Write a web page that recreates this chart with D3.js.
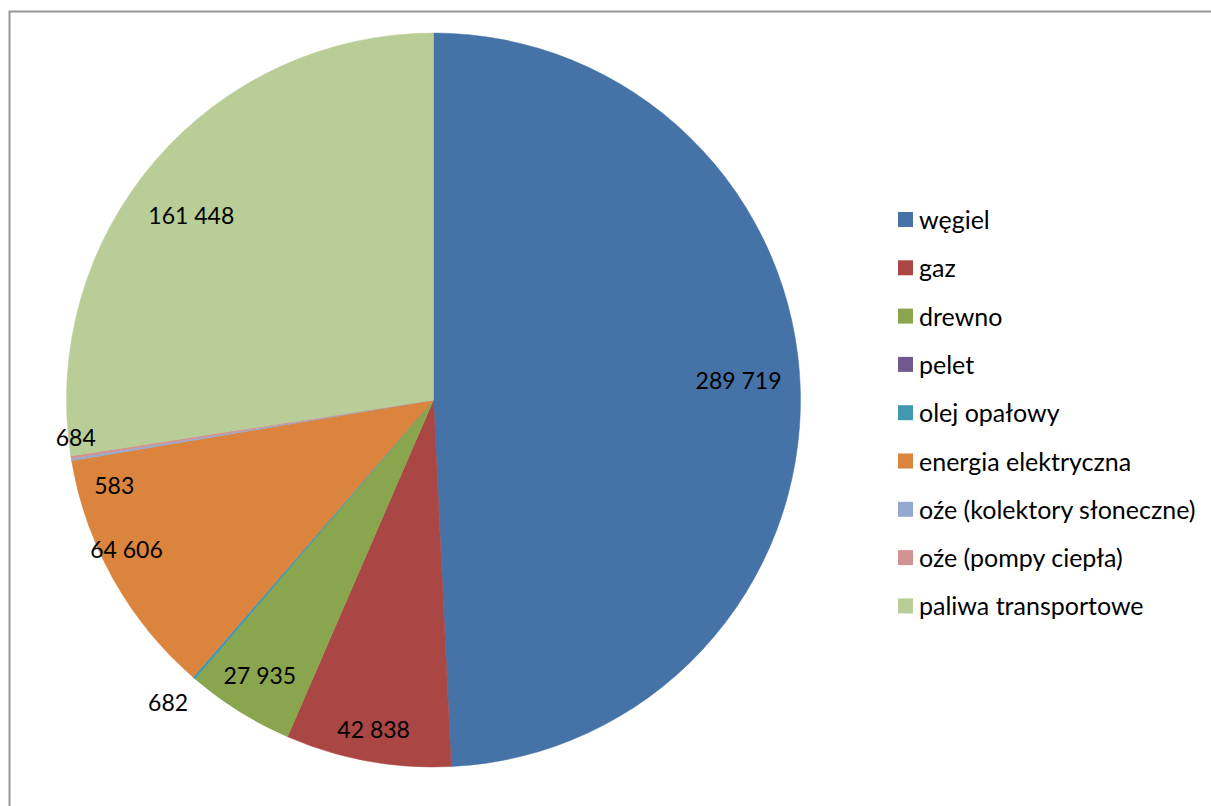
<!DOCTYPE html>
<html>
<head>
<meta charset="utf-8">
<script src="https://cdn.jsdelivr.net/npm/d3@7"></script>
<style>
  html, body { margin: 0; padding: 0; background: #fff; }
  svg { display: block; font-family: Lato, "Open Sans", sans-serif; }
</style>
</head>
<body>
<svg id="chart" width="1211" height="806"></svg>
<script>
// Heating / energy sources (values per category)
const categories = [
  "węgiel", "gaz", "drewno", "pelet", "olej opałowy",
  "energia elektryczna", "oźe (kolektory słoneczne)", "oźe (pompy ciepła)", "paliwa transportowe"
];
const values = [289719, 42838, 27935, 0, 682, 64606, 583, 684, 161448];
const colors = [
  "#4572A7", "#AA4643", "#89A54E", "#71588F", "#4198AF",
  "#DB843D", "#93A9CF", "#D19392", "#B9CD96"
];

// Label placement: radial factor and angular nudge (degrees) per slice
const labelRadius = [0.833, 0.91, 0.886, 0, 1.095, 0.93, 0.90, 0.98, 0.83];
const labelNudge  = [-2.4, 0, 0.3, 0, 0.6, 3.4, -5.5, 3.1, -3.3];

const svg = d3.select("#chart");
const W = 1211, H = 806;

// outer frame
svg.append("rect")
  .attr("x", 9.5).attr("y", 11.5)
  .attr("width", W + 20).attr("height", H + 20)
  .attr("fill", "none").attr("stroke", "#969696").attr("stroke-width", 2);

const cx = 433.5, cy = 400, R = 367;
const data = categories.map((c, i) => ({ name: c, value: values[i], color: colors[i], i }));

const pie = d3.pie().value(d => d.value).sort(null).startAngle(0).endAngle(2 * Math.PI);
const arcs = pie(data);
const arc = d3.arc().innerRadius(0).outerRadius(R);

const g = svg.append("g").attr("transform", `translate(${cx},${cy})`);

g.selectAll("path.slice")
  .data(arcs.filter(a => a.data.value > 0))
  .join("path")
  .attr("class", "slice")
  .attr("d", arc)
  .attr("fill", d => d.data.color)
  .attr("stroke", d => d.data.color)
  .attr("stroke-width", 0.5);

const fmt = v => d3.format(",")(v).replace(/,/g, " ");

g.selectAll("text.lbl")
  .data(arcs.filter(a => a.data.value > 0))
  .join("text")
  .attr("class", "lbl")
  .attr("x", d => {
    const a = (d.startAngle + d.endAngle) / 2 + labelNudge[d.data.i] * Math.PI / 180;
    return Math.sin(a) * R * labelRadius[d.data.i];
  })
  .attr("y", d => {
    const a = (d.startAngle + d.endAngle) / 2 + labelNudge[d.data.i] * Math.PI / 180;
    return -Math.cos(a) * R * labelRadius[d.data.i];
  })
  .attr("text-anchor", "middle")
  .attr("dominant-baseline", "central")
  .attr("font-size", 23)
  .attr("fill", "#000")
  .text(d => fmt(d.data.value));

// legend
const legend = svg.append("g").attr("transform", "translate(898,219)");
const step = 48.3;
const items = legend.selectAll("g.item").data(data).join("g")
  .attr("class", "item")
  .attr("transform", (d, i) => `translate(0,${i * step})`);
items.append("rect")
  .attr("x", 0).attr("y", -7).attr("width", 15).attr("height", 15)
  .attr("fill", d => d.color);
items.append("text")
  .attr("x", 21).attr("y", 0)
  .attr("dominant-baseline", "central")
  .attr("font-size", 25)
  .attr("fill", "#000")
  .text(d => d.name);
</script>
</body>
</html>
